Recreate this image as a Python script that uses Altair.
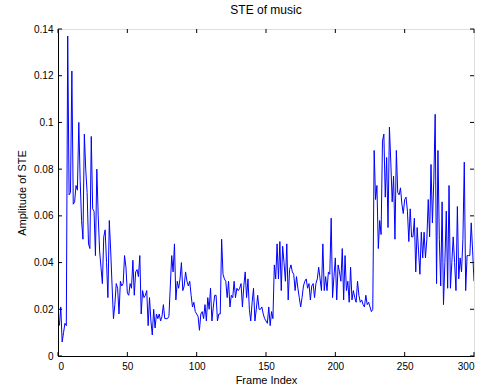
import altair as alt
import pandas as pd

# STE values for frames 1..300
ste_1_50 = [0.013, 0.021, 0.006, 0.010, 0.014, 0.013, 0.137, 0.069, 0.070, 0.122,
            0.065, 0.066, 0.073, 0.071, 0.100, 0.075, 0.058, 0.050, 0.095, 0.080,
            0.070, 0.048, 0.046, 0.094, 0.063, 0.062, 0.043, 0.080, 0.060, 0.045,
            0.038, 0.031, 0.051, 0.054, 0.040, 0.025, 0.058, 0.045, 0.030, 0.016,
            0.022, 0.031, 0.029, 0.018, 0.032, 0.030, 0.031, 0.043, 0.038, 0.027]
ste_51_100 = [0.026, 0.031, 0.029, 0.041, 0.026, 0.036, 0.037, 0.034, 0.043, 0.018,
              0.028, 0.025, 0.026, 0.028, 0.013, 0.025, 0.015, 0.009, 0.020, 0.012,
              0.018, 0.016, 0.018, 0.015, 0.017, 0.022, 0.016, 0.016, 0.016, 0.017,
              0.030, 0.043, 0.036, 0.048, 0.024, 0.032, 0.029, 0.033, 0.040, 0.028,
              0.030, 0.036, 0.032, 0.030, 0.032, 0.026, 0.021, 0.023, 0.019, 0.018]
ste_101_150 = [0.017, 0.011, 0.018, 0.019, 0.016, 0.022, 0.015, 0.025, 0.020, 0.029,
               0.015, 0.021, 0.026, 0.026, 0.015, 0.018, 0.018, 0.050, 0.035, 0.033,
               0.032, 0.025, 0.032, 0.021, 0.026, 0.025, 0.032, 0.025, 0.029, 0.028,
               0.029, 0.031, 0.021, 0.030, 0.036, 0.025, 0.033, 0.020, 0.015, 0.023,
               0.029, 0.015, 0.020, 0.026, 0.020, 0.020, 0.021, 0.018, 0.016, 0.015]
ste_151_200 = [0.014, 0.021, 0.013, 0.019, 0.016, 0.039, 0.033, 0.048, 0.033, 0.049,
               0.028, 0.047, 0.040, 0.032, 0.048, 0.024, 0.037, 0.039, 0.036, 0.035,
               0.028, 0.034, 0.029, 0.025, 0.021, 0.025, 0.030, 0.032, 0.033, 0.029,
               0.031, 0.024, 0.030, 0.031, 0.025, 0.031, 0.033, 0.038, 0.033, 0.028,
               0.048, 0.028, 0.034, 0.028, 0.036, 0.035, 0.059, 0.025, 0.034, 0.042]
ste_201_250 = [0.024, 0.039, 0.036, 0.032, 0.046, 0.024, 0.043, 0.028, 0.032, 0.023,
               0.038, 0.024, 0.028, 0.025, 0.023, 0.032, 0.026, 0.023, 0.024, 0.022,
               0.021, 0.026, 0.022, 0.023, 0.021, 0.019, 0.020, 0.088, 0.067, 0.073,
               0.046, 0.058, 0.052, 0.092, 0.095, 0.068, 0.085, 0.055, 0.098, 0.083,
               0.066, 0.077, 0.050, 0.088, 0.070, 0.069, 0.072, 0.065, 0.061, 0.067]
ste_251_300 = [0.068, 0.062, 0.049, 0.063, 0.051, 0.051, 0.059, 0.036, 0.055, 0.045,
               0.035, 0.053, 0.042, 0.053, 0.042, 0.050, 0.067, 0.051, 0.082, 0.057,
               0.075, 0.1035, 0.031, 0.088, 0.050, 0.030, 0.066, 0.022, 0.040, 0.062,
               0.029, 0.073, 0.029, 0.040, 0.051, 0.040, 0.028, 0.064, 0.033, 0.042,
               0.036, 0.050, 0.083, 0.028, 0.043, 0.043, 0.043, 0.057, 0.045, 0.032]

x_ticks = [0, 50, 100, 150, 200, 250, 300]
y_ticks = [0, 0.02, 0.04, 0.06, 0.08, 0.1, 0.12, 0.14]

ste = ste_1_50 + ste_51_100 + ste_101_150 + ste_151_200 + ste_201_250 + ste_251_300
df = pd.DataFrame({"frame": list(range(1, len(ste) + 1)), "ste": ste})
xt = pd.DataFrame({"v": x_ticks})
yt = pd.DataFrame({"v": y_ticks})

W, H = 416, 327
FONT = "Liberation Sans"
FS = 12
xs = alt.Scale(domain=[0, 300], nice=False, zero=False)
ys = alt.Scale(domain=[0, 0.14], nice=False)

line = alt.Chart(df).mark_line(color="#0000FF", strokeWidth=1, clip=True).encode(
    x=alt.X("frame:Q", scale=xs, axis=alt.Axis(
        values=x_ticks, title="Frame Index", ticks=False, grid=False,
        labelPadding=5, titlePadding=3, domainColor="black", labelColor="black",
        titleColor="black", titleFontWeight="normal")),
    y=alt.Y("ste:Q", scale=ys, axis=alt.Axis(
        values=y_ticks, title="Amplitude of STE", ticks=False, grid=False,
        format="~g", labelPadding=5, titlePadding=6, domainColor="black",
        labelColor="black", titleColor="black", titleFontWeight="normal")),
)

tk = dict(color="black", strokeWidth=1)
xb = alt.Chart(xt).mark_rule(**tk).encode(x=alt.X("v:Q", scale=xs), y=alt.value(H), y2=alt.value(H - 4))
xtp = alt.Chart(xt).mark_rule(**tk).encode(x=alt.X("v:Q", scale=xs), y=alt.value(0), y2=alt.value(4))
yl = alt.Chart(yt).mark_rule(**tk).encode(y=alt.Y("v:Q", scale=ys), x=alt.value(0), x2=alt.value(4))
yr = alt.Chart(yt).mark_rule(**tk).encode(y=alt.Y("v:Q", scale=ys), x=alt.value(W - 4), x2=alt.value(W))

chart = alt.layer(line, xb, xtp, yl, yr).properties(
    width=W, height=H,
    title=alt.TitleParams("STE of music", fontSize=FS, font=FONT, fontWeight="normal",
                          color="black", offset=7),
    autosize=alt.AutoSizeParams(type="none"),
    padding={"left": 58, "top": 29, "right": 9, "bottom": 36},
).configure_view(stroke="black", strokeWidth=1).configure_axis(
    labelFont=FONT, titleFont=FONT, labelFontSize=FS, titleFontSize=FS
).configure(background="white")

chart.save("out.html", embed_options={"renderer": "svg", "actions": False})
